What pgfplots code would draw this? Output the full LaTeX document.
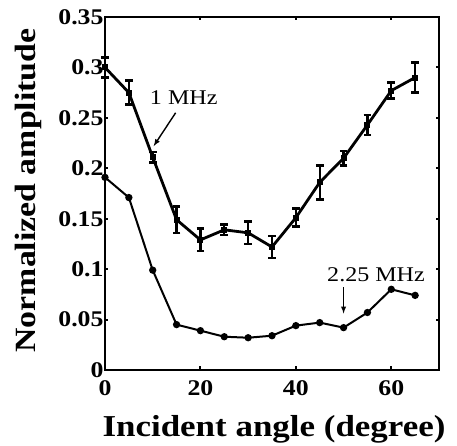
\documentclass[border=0pt]{standalone}
\usepackage{fontspec}
\setmainfont{Liberation Serif}[FakeStretch=1.15]
\usepackage{pgfplots}
\pgfplotsset{compat=1.18}
\begin{document}
\begin{tikzpicture}
\begin{axis}[
  name=ax,
  scale only axis,
  width=334bp, height=353bp,
  xmin=0, xmax=70, ymin=0, ymax=0.35,
  xtick={0,20,40,60},
  ytick={0,0.05,0.1,0.15,0.2,0.25,0.3,0.35},
  yticklabels={0,0.05,0.1,0.15,0.2,0.25,0.3,0.35},
  /pgf/number format/assume math mode=true,
  tick align=inside,
  major tick length=3.5bp,
  axis line style={line width=2.6bp},
  tick style={line width=2bp, black},
  ticklabel style={font=\bfseries\fontsize{22.5}{22.5}\selectfont},
  xticklabel style={yshift=-7bp},
  yticklabel style={xshift=2bp},
  clip=false,
]
\addplot[black, line width=2.8bp, mark=square*, mark size=1.6bp,
  error bars/.cd, y dir=both, y explicit,
  error bar style={line width=2.2bp},
  error mark options={rotate=90, mark size=3.8bp, line width=2.6bp}]
  coordinates {
  (0,0.300) +- (0,0.010)
  (5,0.275) +- (0,0.012)
  (10,0.211) +- (0,0.005)
  (15,0.149) +- (0,0.013)
  (20,0.129) +- (0,0.011)
  (25,0.139) +- (0,0.005)
  (30,0.136) +- (0,0.011)
  (35,0.122) +- (0,0.011)
  (40,0.151) +- (0,0.009)
  (45,0.186) +- (0,0.017)
  (50,0.210) +- (0,0.007)
  (55,0.243) +- (0,0.010)
  (60,0.277) +- (0,0.008)
  (65,0.290) +- (0,0.015)
  };
\addplot[black, line width=2bp, mark=*, mark size=2.6bp]
  coordinates {
  (0,0.191) (5,0.171) (10,0.099) (15,0.045) (20,0.039) (25,0.033) (30,0.032)
  (35,0.034) (40,0.044) (45,0.047) (50,0.042) (55,0.057) (60,0.080) (65,0.074)
  };
\node[font=\fontsize{21}{21}\selectfont] at (axis cs:16.5,0.270) {1 MHz};
\draw[-latex, line width=1.4bp] (axis cs:14.8,0.255) -- (axis cs:10.2,0.222);
\node[font=\fontsize{21}{21}\selectfont] at (axis cs:56.8,0.094) {2.25 MHz};
\draw[-latex, line width=1.4bp] (axis cs:50,0.082) -- (axis cs:50,0.056);
\end{axis}
\node[anchor=base, font=\bfseries\fontsize{30.5}{30.5}\selectfont, inner sep=0pt]
  at ([xshift=2bp, yshift=-66bp]ax.south) {Incident angle (degree)};
\node[anchor=base, rotate=90, font=\bfseries\fontsize{29.5}{29.5}\selectfont, inner sep=0pt]
  at ([xshift=-69bp, yshift=3bp]ax.west) {Normalized amplitude};
\pgfresetboundingbox
\path[use as bounding box] ([xshift=-105bp,yshift=-76bp]ax.south west) rectangle ([xshift=18bp,yshift=17bp]ax.north east);
\end{tikzpicture}
\end{document}
